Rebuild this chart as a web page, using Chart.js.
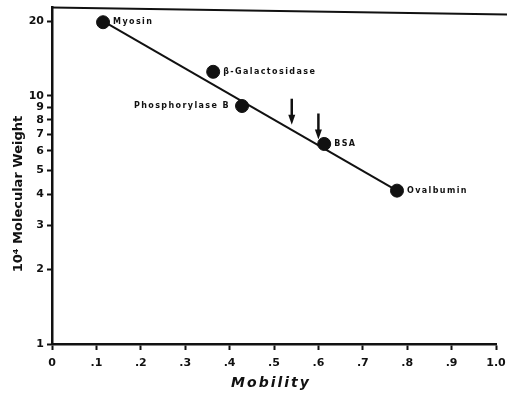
<!DOCTYPE html>
<html>
<head>
<meta charset="utf-8">
<script src="https://cdn.jsdelivr.net/npm/chart.js@4/dist/chart.umd.min.js"></script>
<style>
    html, body { margin: 0; padding: 0; background: #fff; }
    #wrap { width: 507px; height: 394px; }
</style>
</head>
<body>
<div id="wrap"><canvas id="chartMW"></canvas></div>
<script>
const proteinas = ['Myosin', 'β-Galactosidase', 'Phosphorylase B', 'BSA', 'Ovalbumin'];
const movilidad = [0.115, 0.363, 0.428, 0.613, 0.777];
const pesoMolecular = [19.8, 12.5, 9.1, 6.4, 4.15];
const ladoEtiqueta = ['right', 'right', 'left', 'right', 'right'];

const rectaX = [0.115, 0.777];
const rectaY = [20, 4.15];

const flechasX = [0.54, 0.60];
const flechasY = [7.65, 6.67];

const ticksY = [1, 2, 3, 4, 5, 6, 7, 8, 9, 10, 20];
const ticksX = [0, 0.1, 0.2, 0.3, 0.4, 0.5, 0.6, 0.7, 0.8, 0.9, 1.0];
const etiquetasX = ['0', '.1', '.2', '.3', '.4', '.5', '.6', '.7', '.8', '.9', '1.0'];

const NEGRO = '#111';

const extras = {
    id: 'extras',
    afterDraw(chart) {
        const { ctx, chartArea, scales: { x, y } } = chart;
        ctx.save();
        ctx.fillStyle = NEGRO;
        ctx.strokeStyle = NEGRO;

        // marco superior (ligeramente inclinado como en el original)
        ctx.lineWidth = 2;
        ctx.beginPath();
        ctx.moveTo(chartArea.left, chartArea.top);
        ctx.lineTo(chart.width, chartArea.top + 7);
        ctx.stroke();

        // flechas
        flechasX.forEach((v, i) => {
            const px = x.getPixelForValue(v);
            const py = y.getPixelForValue(flechasY[i]);
            ctx.lineWidth = 2.5;
            ctx.beginPath();
            ctx.moveTo(px, py - 26);
            ctx.lineTo(px, py - 7);
            ctx.stroke();
            ctx.beginPath();
            ctx.moveTo(px - 3.5, py - 10);
            ctx.lineTo(px + 3.5, py - 10);
            ctx.lineTo(px, py);
            ctx.closePath();
            ctx.fill();
        });

        // nombres de proteínas
        ctx.font = 'bold 8px "DejaVu Sans"';
        ctx.letterSpacing = '1.4px';
        ctx.textBaseline = 'middle';
        proteinas.forEach((nombre, i) => {
            const px = x.getPixelForValue(movilidad[i]);
            const py = y.getPixelForValue(pesoMolecular[i]);
            if (ladoEtiqueta[i] === 'left') {
                ctx.textAlign = 'right';
                ctx.fillText(nombre, px - 12, py);
            } else {
                ctx.textAlign = 'left';
                ctx.fillText(nombre, px + 10, py);
            }
        });

        // títulos de ejes
        ctx.letterSpacing = '0px';
        ctx.font = 'bold 13px "DejaVu Sans"';
        ctx.textAlign = 'center';
        ctx.save();
        ctx.translate(19, 194);
        ctx.rotate(-Math.PI / 2);
        ctx.fillText('10⁴ Molecular Weight', 0, 0);
        ctx.restore();

        ctx.letterSpacing = '2px';
        ctx.font = 'italic bold 14px "DejaVu Sans"';
        ctx.fillText('Mobility', (chartArea.left + chartArea.right) / 2 - 3, 383);
        ctx.restore();
    }
};

new Chart(document.getElementById('chartMW'), {
    type: 'scatter',
    data: {
        datasets: [
            {
                data: movilidad.map((v, i) => ({ x: v, y: pesoMolecular[i] })),
                backgroundColor: NEGRO,
                borderColor: NEGRO,
                pointRadius: 6.5,
                pointHoverRadius: 6.5,
                showLine: false
            },
            {
                data: rectaX.map((v, i) => ({ x: v, y: rectaY[i] })),
                borderColor: NEGRO,
                borderWidth: 2,
                pointRadius: 0,
                showLine: true
            }
        ]
    },
    options: {
        responsive: true,
        maintainAspectRatio: false,
        animation: false,
        events: [],
        layout: { padding: 0 },
        plugins: {
            legend: { display: false },
            tooltip: { enabled: false }
        },
        scales: {
            x: {
                type: 'linear',
                min: 0,
                max: 1.0,
                afterFit: s => { s.height = 50; s.paddingLeft = 0; s.paddingRight = 11; },
                afterBuildTicks: s => { s.ticks = ticksX.map(v => ({ value: v })); },
                border: { color: NEGRO, width: 2.5 },
                grid: { drawOnChartArea: false, tickLength: 6, tickColor: NEGRO, tickWidth: 2 },
                ticks: {
                    color: NEGRO,
                    padding: 7,
                    autoSkip: false,
                    maxRotation: 0,
                    font: { family: 'DejaVu Sans', weight: 'bold', size: 11 },
                    callback: (v, i) => etiquetasX[i]
                }
            },
            y: {
                type: 'logarithmic',
                min: 1,
                max: 22.7,
                afterFit: s => { s.width = 52; s.paddingTop = 5; s.paddingBottom = 0; },
                afterBuildTicks: s => { s.ticks = ticksY.map(v => ({ value: v })); },
                border: { color: NEGRO, width: 2.5 },
                grid: { drawOnChartArea: false, tickLength: 5, tickColor: NEGRO, tickWidth: 2 },
                ticks: {
                    color: NEGRO,
                    padding: 3,
                    autoSkip: false,
                    font: { family: 'DejaVu Sans', weight: 'bold', size: 11 },
                    callback: v => String(v)
                }
            }
        }
    },
    plugins: [extras]
});
</script>
</body>
</html>
